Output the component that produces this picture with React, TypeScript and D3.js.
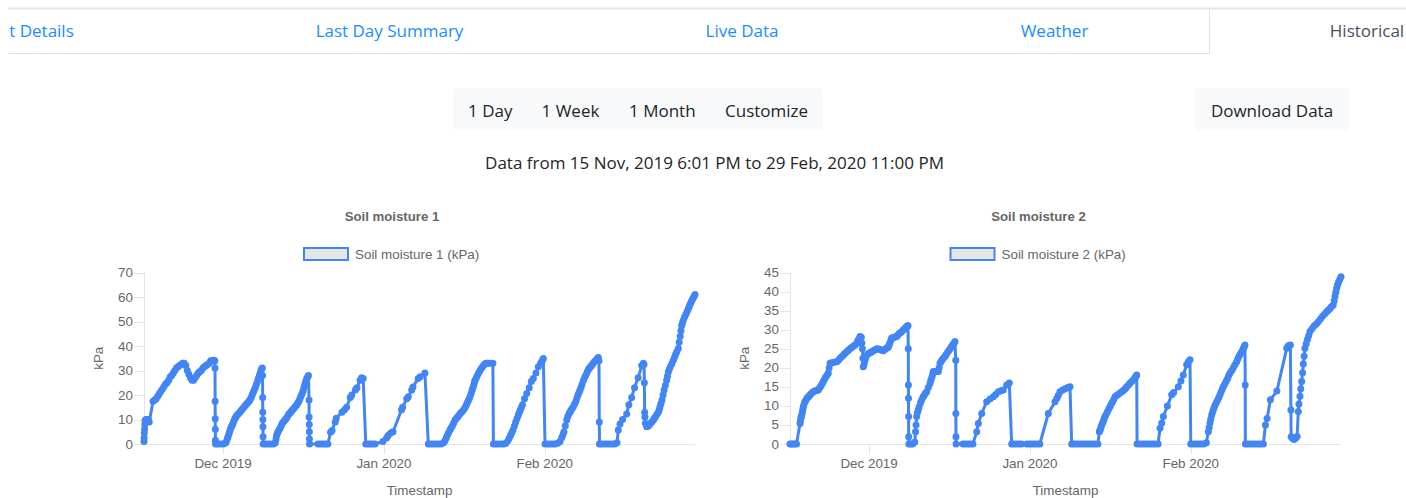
import React from "react";
import * as d3 from "d3";

// readings are stored as [days since 15 Nov 2019 00:00 UTC, kPa]
const DAY_MS = 864e5;
const periodStart = Date.UTC(2019, 10, 15);
const firstReading = Date.UTC(2019, 10, 15, 18, 1);
const lastReading = Date.UTC(2020, 1, 29, 23, 0);

const tabLabels = ["t Details", "Last Day Summary", "Live Data", "Weather", "Historical"];
const rangeButtons = ["1 Day", "1 Week", "1 Month", "Customize"];
const rangeText = "Data from 15 Nov, 2019 6:01 PM to 29 Feb, 2020 11:00 PM";

const yTicks1 = [0, 10, 20, 30, 40, 50, 60, 70];
const yTicks2 = [0, 5, 10, 15, 20, 25, 30, 35, 40, 45];

const moisture1: [number, number][] = [
  [0.75, 1], [0.78, 2.5], [0.82, 4.5], [0.86, 6], [0.9, 8], [0.95, 9.5], [1.1, 10], [1.35, 10], [1.6, 10], [1.75, 9],
  [2.5, 17.5], [2.8, 18], [3.1, 18.5], [3.4, 19.5], [3.7, 20.5], [4.0, 21.5], [4.3, 22.5], [4.6, 23.5], [4.9, 24.5],
  [5.2, 25], [5.5, 26], [5.8, 27.5], [6.1, 28], [6.4, 29], [6.7, 30], [7.0, 31], [7.3, 31.5], [7.6, 32], [7.9, 32.5],
  [8.2, 33], [8.5, 33], [8.8, 32], [9.1, 30], [9.4, 28.5], [9.7, 27], [10.0, 26], [10.3, 26], [10.6, 27], [10.9, 28],
  [11.2, 29], [11.5, 29.5], [11.8, 30], [12.1, 31], [12.4, 31.5], [12.7, 32], [13.0, 32.5], [13.3, 33], [13.6, 34],
  [13.9, 34], [14.2, 34.2], [14.4, 34],
  [14.44, 31], [14.46, 17.5], [14.48, 10.3], [14.5, 6], [14.52, 1.5], [14.55, 0], [15.0, 0], [15.5, 0], [16.0, 0], [16.4, 0.3],
  [16.6, 0.8], [16.8, 2], [16.95, 3], [17.1, 4], [17.25, 5], [17.4, 6], [17.55, 6.8], [17.7, 7.5], [17.85, 8.2], [18.0, 9],
  [18.15, 9.8], [18.3, 10.5], [18.45, 11], [18.6, 11.5], [18.8, 12], [19.0, 12.5], [19.2, 13], [19.4, 13.5], [19.6, 14],
  [19.8, 14.5], [20.0, 15], [20.2, 15.5], [20.4, 16], [20.6, 16.5], [20.8, 17], [21.0, 17.5], [21.2, 18.2], [21.4, 19],
  [21.6, 20], [21.8, 21], [22.0, 22], [22.2, 23], [22.4, 24.2], [22.6, 25.5], [22.8, 26.8], [23.0, 28], [23.15, 29],
  [23.3, 30], [23.45, 30.8], [23.55, 31],
  [23.6, 28], [23.62, 19], [23.64, 13], [23.66, 10], [23.68, 7], [23.7, 3], [23.72, 0], [24.2, 0], [24.7, 0], [25.2, 0],
  [25.7, 0], [26.05, 0.5],
  [26.2, 2], [26.3, 3.5], [26.45, 4.3], [26.6, 5], [26.8, 5.8], [27.0, 6.5], [27.2, 7.5], [27.4, 8.5], [27.6, 9], [27.8, 9.5],
  [28.0, 10], [28.2, 10.5], [28.4, 11.2], [28.6, 12], [28.8, 12.5], [29.0, 13], [29.2, 13.5], [29.4, 14], [29.6, 14.5],
  [29.8, 15], [30.0, 15.5], [30.2, 16], [30.4, 16.7], [30.6, 17.5], [30.8, 18.5], [31.0, 19.5], [31.2, 20.5], [31.4, 21.5],
  [31.55, 22.8], [31.7, 24], [31.85, 25], [32.0, 26], [32.15, 26.8], [32.3, 27.5], [32.45, 28],
  [32.56, 18], [32.58, 11], [32.6, 8], [32.62, 5], [32.64, 2], [32.66, 0],
  [34.3, 0], [34.8, 0], [35.3, 0], [35.8, 0], [36.2, 0],
  [36.7, 4.8], [37.0, 5.5], [37.6, 9], [37.8, 10.5], [38.9, 13], [39.4, 14], [39.8, 15], [40.5, 19], [40.8, 20],
  [41.5, 22], [41.8, 23], [42.4, 26], [42.7, 27], [43.0, 26.7],
  [43.5, 0], [44.0, 0], [44.4, 0], [44.8, 0], [45.3, 0],
  [46.8, 1], [47.5, 2.5], [47.8, 3.5], [48.3, 4.5], [48.75, 5],
  [50.4, 14], [50.6, 15], [51.4, 18.5], [51.7, 19.3], [52.35, 22], [52.6, 23.3], [53.6, 26.7], [54.0, 27.5], [54.9, 29],
  [55.55, 0], [56.0, 0], [56.5, 0], [57.0, 0], [57.5, 0], [58.0, 0], [58.5, 0.5],
  [58.77, 1.3], [59.0, 2.4], [59.2, 3.5], [59.45, 4.6], [59.73, 5.7], [59.95, 6.6], [60.2, 7.5], [60.45, 8.6], [60.7, 9.8],
  [60.95, 10.4], [61.2, 11], [61.45, 11.7], [61.7, 12.5], [62.0, 13.1], [62.29, 13.8], [62.55, 14.6], [62.8, 15.5],
  [63.0, 16.5], [63.2, 17.5], [63.4, 18.4], [63.59, 19.3], [63.8, 20.6], [64.0, 22], [64.15, 23], [64.3, 24], [64.45, 25.2],
  [64.55, 26], [64.8, 27], [65.0, 28], [65.25, 29], [65.51, 30], [65.75, 30.8], [66.0, 31.5], [66.25, 32.2], [66.48, 32.8],
  [66.75, 33], [67.0, 33], [67.5, 33], [68.0, 33],
  [68.1, 0], [68.6, 0], [69.1, 0], [69.6, 0], [70.1, 0], [70.5, 0.3],
  [70.91, 1.3], [71.15, 2.4], [71.4, 3.5], [71.65, 4.6], [71.88, 5.7], [72.15, 7.3], [72.4, 9], [72.65, 10.4], [72.9, 11.8],
  [73.1, 13], [73.3, 14], [73.5, 15], [73.7, 16], [74.1, 18.5], [74.52, 20.6], [75.0, 23], [75.4, 25.5], [75.79, 26.7],
  [76.3, 29], [76.75, 31.5], [77.2, 33], [77.5, 34], [77.72, 34.9],
  [78.05, 0], [78.5, 0], [79.0, 0], [79.5, 0], [80.0, 0], [80.5, 0.3], [80.94, 1],
  [81.26, 2.6], [81.5, 3.8], [81.7, 5], [81.95, 7.4], [82.23, 9.8], [82.45, 11.2], [82.7, 12.5], [82.9, 13.2], [83.1, 14],
  [83.3, 14.6], [83.5, 15.2], [83.75, 16.3], [84.0, 17.5], [84.2, 18.8], [84.4, 20], [84.6, 21], [84.79, 22], [85.0, 23.2],
  [85.2, 24.5], [85.45, 26], [85.75, 27.4], [86.0, 28.5], [86.2, 29.5], [86.4, 30.3], [86.6, 31], [86.8, 31.5],
  [87.04, 32], [87.25, 32.8], [87.5, 33.5], [87.75, 34], [88.0, 34.5], [88.15, 34.9], [88.32, 35.3], [88.45, 34],
  [88.51, 9], [88.55, 0], [89.0, 0], [89.5, 0], [90.0, 0], [90.5, 0], [91.0, 0], [91.5, 0], [91.92, 0.5],
  [92.17, 5.7], [92.5, 8.2], [93.0, 10], [93.79, 12.2], [94.2, 16], [94.75, 19], [95.3, 23], [96.0, 27], [96.68, 32],
  [97.0, 33], [97.13, 32.5],
  [97.2, 25], [97.25, 13], [97.3, 11], [97.4, 8.5], [97.65, 7], [97.8, 7.2], [98.0, 7.5], [98.2, 8], [98.4, 8.5],
  [98.65, 9.1], [98.92, 9.8], [99.1, 10.4], [99.3, 11], [99.6, 12], [99.88, 13], [100.05, 14], [100.21, 15.2],
  [100.4, 16.5], [100.6, 18], [100.8, 20], [101.0, 22], [101.25, 24], [101.5, 26], [101.65, 27.7], [101.81, 29.4],
  [102.0, 30.5], [102.2, 31.5], [102.5, 32.8], [102.77, 34.2], [103.0, 35.4], [103.2, 36.5], [103.45, 37.7],
  [103.74, 39], [103.9, 41.5], [104.1, 44], [104.25, 46.2], [104.39, 48.4], [104.55, 49.5], [104.7, 50.5],
  [104.95, 51.8], [105.2, 53], [105.45, 54.1], [105.67, 55.2], [105.85, 56.1], [106.0, 57], [106.2, 57.9],
  [106.4, 58.8], [106.6, 59.6], [106.8, 60.3], [106.96, 61],
];

const moisture2: [number, number][] = [
  [0.75, 0], [1.0, 0], [1.3, 0], [1.6, 0], [2.0, 0],
  [2.68, 5.4], [2.75, 6], [2.85, 6.8], [2.95, 7.2], [3.05, 7.8], [3.15, 8.5], [3.25, 9.3], [3.35, 10], [3.5, 10.6],
  [3.65, 11.1], [3.8, 11.5], [4.0, 12], [4.15, 12.2], [4.3, 12.4], [4.5, 12.7], [4.7, 13], [4.95, 13.4], [5.24, 13.7],
  [5.5, 13.9], [5.7, 14], [5.95, 14.1], [6.2, 14.2], [6.45, 14.7], [6.7, 15.2], [6.95, 15.8], [7.17, 16.4], [7.4, 17],
  [7.6, 17.5], [7.85, 18], [8.13, 18.6], [8.3, 20], [8.46, 21.2], [8.8, 21.3], [9.1, 21.4], [9.4, 21.5], [9.75, 21.6],
  [10.1, 22], [10.4, 22.5], [10.7, 22.9], [11.02, 23.3], [11.35, 23.8], [11.7, 24.2], [12.0, 24.6], [12.32, 25],
  [12.65, 25.3], [13.0, 25.7], [13.3, 26], [13.61, 26.4], [13.8, 27], [14.0, 27.5], [14.24, 28.2], [14.5, 28],
  [14.6, 26.5], [14.7, 25], [14.8, 22.5], [14.88, 20.3], [15.05, 21], [15.2, 22], [15.35, 22.7], [15.53, 23.3],
  [15.75, 23.6], [16.0, 23.8], [16.25, 24], [16.5, 24.2], [16.75, 24.4], [17.0, 24.6], [17.25, 24.8], [17.46, 25],
  [17.8, 24.9], [18.1, 24.8], [18.4, 24.6], [18.73, 24.5], [19.0, 24.8], [19.2, 25], [19.45, 25.2], [19.7, 25.4],
  [19.85, 26], [20.0, 26.5], [20.2, 27.2], [20.35, 27.8], [20.6, 27.9], [20.8, 28], [21.05, 28.1], [21.32, 28.2],
  [21.55, 28.6], [21.8, 29], [22.05, 29.2], [22.28, 29.5], [22.55, 29.9], [22.8, 30.2], [23.0, 30.5], [23.24, 30.8],
  [23.4, 31], [23.5, 31],
  [23.55, 25], [23.57, 15.5], [23.59, 12], [23.61, 7.2], [23.63, 1.9], [23.66, 0], [24.0, 0], [24.4, 0], [24.8, 0.5],
  [24.95, 3.2], [25.05, 5], [25.17, 7.2], [25.3, 8.2], [25.48, 9], [25.65, 9.8], [25.9, 10.8], [26.14, 11.6], [26.4, 12.3],
  [26.6, 12.8], [26.85, 13.3], [27.1, 13.7], [27.4, 14.8], [27.74, 15.9], [27.9, 16.7], [28.1, 17.5], [28.25, 18.3],
  [28.37, 19], [28.6, 19], [28.8, 19], [29.05, 19], [29.34, 19], [29.5, 20], [29.66, 21.2], [29.9, 21.7], [30.1, 22.2],
  [30.4, 22.6], [30.63, 23], [30.85, 23.5], [31.1, 24], [31.35, 24.5], [31.59, 25], [31.85, 25.5], [32.1, 26],
  [32.3, 26.4], [32.55, 26.9],
  [32.7, 22], [32.72, 8], [32.74, 1.9], [32.76, 0],
  [34.1, 0], [34.6, 0], [35.1, 0], [35.5, 0], [36.0, 0],
  [36.74, 3.2], [37.05, 5.4], [37.7, 8], [38.66, 11.1], [39.3, 11.8], [39.94, 12.4], [40.4, 13], [40.9, 13.7],
  [41.4, 14], [41.86, 14.2], [42.52, 15.5], [43.02, 16],
  [43.48, 0], [43.9, 0], [44.4, 0], [44.9, 0], [45.4, 0],
  [46.4, 0], [46.9, 0], [47.4, 0], [47.9, 0], [48.4, 0], [48.9, 0],
  [50.54, 8], [51.83, 11.1], [52.2, 12], [52.47, 12.8], [52.79, 13.7], [53.3, 14.2], [53.8, 14.5], [54.3, 14.8], [54.72, 15],
  [55.05, 0], [55.5, 0], [56.0, 0], [56.5, 0], [57.0, 0], [57.5, 0], [58.0, 0], [58.5, 0], [59.0, 0], [59.5, 0], [60.1, 0],
  [60.37, 3.2], [60.5, 3.6], [60.6, 4], [60.72, 4.5], [60.83, 5], [61.0, 5.5], [61.15, 6], [61.3, 6.6], [61.47, 7.2],
  [61.7, 7.8], [61.95, 8.5], [62.2, 9.2], [62.43, 9.8], [62.65, 10.4], [62.9, 11], [63.15, 11.7], [63.4, 12.4],
  [63.7, 12.7], [64.0, 13], [64.35, 13.4], [64.69, 13.7], [64.95, 14], [65.2, 14.3], [65.45, 14.6], [65.65, 15],
  [66.0, 15.5], [66.3, 16], [66.6, 16.4], [66.92, 16.8], [67.1, 17.1], [67.3, 17.5], [67.45, 17.8], [67.58, 18.1],
  [67.65, 0], [68.2, 0], [68.7, 0], [69.2, 0], [69.7, 0], [70.2, 0], [70.7, 0], [71.2, 0], [71.7, 0],
  [72.07, 4.1], [72.4, 5.5], [72.71, 7.2], [73.5, 10], [74.32, 12.9], [74.7, 13.5], [75.6, 15], [76.1, 16.5],
  [76.56, 18.1], [77.21, 20.8], [77.5, 21.5], [77.85, 22.1],
  [78.0, 0], [78.5, 0], [79.0, 0], [79.5, 0], [80.0, 0], [80.5, 0], [81.0, 0.3],
  [81.38, 3.2], [81.55, 4.3], [81.7, 5.5], [81.85, 6.5], [82.03, 7.6], [82.2, 8.3], [82.35, 9], [82.5, 9.6], [82.67, 10.2],
  [82.9, 10.8], [83.15, 11.5], [83.4, 12.2], [83.63, 12.9], [83.85, 13.7], [84.1, 14.5], [84.35, 15.2], [84.6, 15.9],
  [84.85, 16.5], [85.1, 17.2], [85.3, 17.9], [85.56, 18.6], [85.9, 19.3], [86.2, 20], [86.5, 20.8], [86.85, 21.6],
  [87.05, 22.3], [87.3, 23], [87.55, 23.6], [87.82, 24.2], [88.1, 25], [88.3, 25.5], [88.45, 26],
  [88.5, 15.5], [88.52, 0], [89.0, 0], [89.5, 0], [90.0, 0], [90.5, 0], [91.0, 0], [91.5, 0], [92.0, 0],
  [92.39, 5], [92.71, 6.7], [93.35, 11.6], [94.6, 13.9], [96.49, 25.1], [96.8, 25.8], [97.2, 26],
  [97.3, 8.9], [97.35, 1.9], [97.6, 1.5], [97.9, 1.2], [98.2, 1.5], [98.5, 2],
  [98.72, 8.5], [98.85, 10.5], [99.05, 12.5], [99.2, 14.5], [99.37, 16.4], [99.55, 18.7], [99.7, 21], [99.85, 23],
  [100.0, 25.1], [100.25, 26.3], [100.5, 27.5], [100.75, 28.5], [100.97, 29.5], [101.4, 30.3], [101.8, 31],
  [102.2, 31.5], [102.57, 32.1], [103.0, 32.8], [103.4, 33.5], [103.8, 34.1], [104.19, 34.7], [104.5, 35.1],
  [104.8, 35.5], [105.1, 36], [105.46, 36.5], [105.65, 37.6], [105.8, 38.8], [105.95, 39.8], [106.12, 40.9],
  [106.3, 41.7], [106.5, 42.5], [106.75, 43.3], [106.96, 43.9],
];

const BLUE = "#4285f4";
const GRID = "#e5e5e5";
const chartFont = "'Liberation Sans', Arial, sans-serif";
const uiFont = "'Open Sans', 'Noto Sans', sans-serif";

function MoistureChart(props: {
  title: string; legend: string; data: [number, number][]; yTicks: number[];
  left: number; right: number; cx: number;
}) {
  const { title, legend, data, yTicks, left, right, cx } = props;
  const top = 272.5, bottom = 444;

  const x = d3.scaleUtc().domain([new Date(firstReading), new Date(lastReading)]).range([left, right]);
  const y = d3.scaleLinear().domain([0, yTicks[yTicks.length - 1]]).range([bottom, top]);
  const pts: [number, number][] = data.map(([d, v]) => [x(new Date(periodStart + d * DAY_MS)), y(v)]);
  const path = d3.line()(pts) || "";
  const months = x.ticks(d3.utcMonth.every(1) as any);
  const fmt = d3.utcFormat("%b %Y");

  return (
    <g fontFamily={chartFont} fontSize={13.4} fill="#666">
      <text x={cx} y={221} textAnchor="middle" fontWeight="bold" fontSize={13.2}>{title}</text>
      <rect x={cx - 88} y={248} width={44} height={12} fill="#e6e6e6" stroke={BLUE} strokeWidth={2} />
      <text x={cx - 37} y={258.5}>{legend}</text>

      {/* y axis */}
      <line x1={left + 0.5} x2={left + 0.5} y1={top} y2={bottom} stroke={GRID} />
      {yTicks.map((t) => (
        <g key={t}>
          <line x1={left - 10} x2={left} y1={Math.round(y(t)) + 0.5} y2={Math.round(y(t)) + 0.5} stroke={GRID} />
          <text x={left - 11} y={y(t) + 4.5} textAnchor="end">{t}</text>
        </g>
      ))}
      <text transform={`translate(${left - 41},${(top + bottom) / 2}) rotate(-90)`} textAnchor="middle">kPa</text>

      {/* x axis */}
      <line x1={left} x2={right} y1={bottom + 0.5} y2={bottom + 0.5} stroke={GRID} />
      {months.map((m) => (
        <g key={+m}>
          <line x1={Math.round(x(m)) + 0.5} x2={Math.round(x(m)) + 0.5} y1={bottom} y2={bottom + 10} stroke={GRID} />
          <text x={x(m)} y={468} textAnchor="middle">{fmt(m)}</text>
        </g>
      ))}
      <text x={(left + right) / 2} y={495} textAnchor="middle">Timestamp</text>

      <path d={path} fill="none" stroke={BLUE} strokeWidth={3} strokeLinejoin="round" />
      {pts.map((p, i) => (
        <circle key={i} cx={p[0]} cy={p[1]} r={3.5} fill={BLUE} />
      ))}
    </g>
  );
}

export default function App() {
  const tabX = [41.5, 389.5, 742, 1054.5, 1367];
  const btnX = [468, 541.5, 629, 725];

  return (
    <svg width={1406} height={498} style={{ position: "absolute", left: 0, top: 0, background: "#fff" }}>
      {/* tabs */}
      <line x1={8} x2={1406} y1={8.5} y2={8.5} stroke="#e3e6e9" strokeWidth={2} />
      <line x1={8} x2={1209.5} y1={53.5} y2={53.5} stroke="#dee2e6" />
      <line x1={1209.5} x2={1209.5} y1={9} y2={53.5} stroke="#dee2e6" />
      {tabLabels.map((t, i) => (
        <text key={t} x={tabX[i]} y={37} textAnchor="middle" fontFamily={uiFont} fontSize={17}
          fill={i === tabLabels.length - 1 ? "#495057" : "#1a8cff"}>{t}</text>
      ))}

      {/* range buttons */}
      <rect x={453} y={88} width={370} height={42} rx={4} fill="#f8f9fa" />
      {rangeButtons.map((b, i) => (
        <text key={b} x={btnX[i]} y={117} fontFamily={uiFont} fontSize={17} fill="#212529">{b}</text>
      ))}
      <rect x={1195} y={88} width={154} height={42} rx={4} fill="#f8f9fa" />
      <text x={1272} y={117} textAnchor="middle" fontFamily={uiFont} fontSize={17} fill="#212529">Download Data</text>

      <text x={714.5} y={168.5} textAnchor="middle" fontFamily={uiFont} fontSize={17} fill="#212529">{rangeText}</text>

      <MoistureChart title="Soil moisture 1" legend="Soil moisture 1 (kPa)" data={moisture1} yTicks={yTicks1}
        left={144} right={695} cx={392} />
      <MoistureChart title="Soil moisture 2" legend="Soil moisture 2 (kPa)" data={moisture2} yTicks={yTicks2}
        left={790} right={1341} cx={1038.5} />
    </svg>
  );
}
